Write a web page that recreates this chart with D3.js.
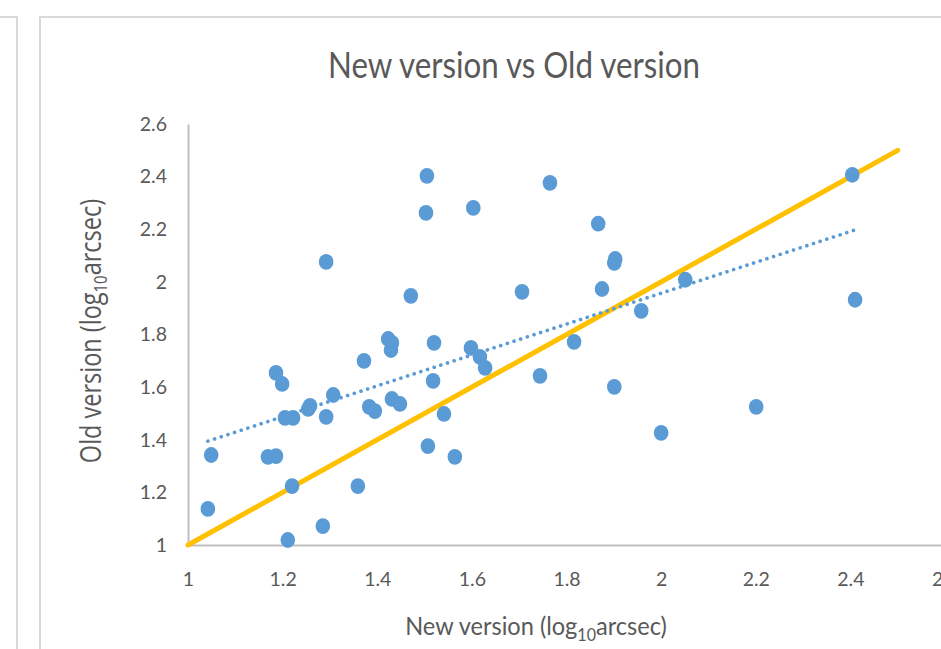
<!DOCTYPE html>
<html>
<head>
<meta charset="utf-8">
<script src="https://cdn.jsdelivr.net/npm/d3@7"></script>
<style>
  body { margin: 0; background: #fff; }
  svg { display: block; }
  text { fill: #595959; }
</style>
</head>
<body>
<div id="vis"></div>
<script>
// values (log10 arcsec)
const newVersion = [
  1.042, 1.049, 1.169, 1.186, 1.186, 1.199, 1.205, 1.222, 1.220, 1.211,
  1.254, 1.258, 1.292, 1.292, 1.285, 1.307, 1.359, 1.372, 1.383, 1.395,
  1.423, 1.431, 1.429, 1.431, 1.448, 1.471, 1.505, 1.503, 1.507, 1.520,
  1.518, 1.541, 1.564, 1.603, 1.598, 1.617, 1.628, 1.706, 1.744, 1.765,
  1.816, 1.867, 1.875, 1.903, 1.901, 1.901, 1.958, 2.000, 2.051, 2.201,
  2.404, 2.410
];
const oldVersion = [
  1.137, 1.342, 1.335, 1.338, 1.654, 1.612, 1.483, 1.483, 1.224, 1.019,
  1.517, 1.529, 2.076, 1.487, 1.072, 1.570, 1.224, 1.700, 1.525, 1.509,
  1.783, 1.768, 1.741, 1.555, 1.536, 1.947, 2.403, 2.262, 1.376, 1.768,
  1.624, 1.498, 1.335, 2.281, 1.749, 1.715, 1.673, 1.962, 1.643, 2.376,
  1.772, 2.221, 1.973, 2.087, 2.072, 1.601, 1.890, 1.426, 2.008, 1.525,
  2.407, 1.932
];
// one-to-one reference line
const diagLine = [[1, 1], [2.5, 2.5]];
const xTicks = [1, 1.2, 1.4, 1.6, 1.8, 2, 2.2, 2.4, 2.6];
const yTicks = [1, 1.2, 1.4, 1.6, 1.8, 2, 2.2, 2.4, 2.6];

const width = 941;
const height = 649;
const plot = { left: 188, right: 945, top: 124, bottom: 545 };

const svg = d3.select('#vis')
  .append('svg')
  .attr('width', width)
  .attr('height', height);

// panel borders
const border = '#d9d9d9';
svg.append('path')
  .attr('d', 'M0,17 H17 V649')
  .attr('fill', 'none').attr('stroke', border).attr('stroke-width', 2);
svg.append('path')
  .attr('d', 'M40,649 V17 H941')
  .attr('fill', 'none').attr('stroke', border).attr('stroke-width', 2);

const x = d3.scaleLinear().domain([1, 2.6]).range([plot.left, plot.right]);
const y = d3.scaleLinear().domain([1, 2.6]).range([plot.bottom, plot.top]);

// axes
const xAxis = svg.append('g')
  .attr('transform', `translate(0,${plot.bottom})`)
  .call(d3.axisBottom(x).tickValues(xTicks).tickSize(0).tickPadding(27)
    .tickFormat(d3.format('~g')));
const yAxis = svg.append('g')
  .attr('transform', `translate(${plot.left},0)`)
  .call(d3.axisLeft(y).tickValues(yTicks).tickSize(0).tickPadding(21)
    .tickFormat(d3.format('~g')));

[xAxis, yAxis].forEach(a => {
  a.select('.domain').attr('stroke', '#bfbfbf').attr('stroke-width', 2);
  a.selectAll('text')
    .style('font-family', 'Lato, sans-serif')
    .style('font-size', '19.5px')
    .style('fill', '#595959');
});

// y = x line
const line = d3.line().x(d => x(d[0])).y(d => y(d[1]));
svg.append('path')
  .datum(diagLine)
  .attr('d', line)
  .attr('fill', 'none')
  .attr('stroke', '#ffc000')
  .attr('stroke-width', 5)
  .attr('stroke-linecap', 'round');

// points
const data = newVersion.map((d, i) => ({ nx: d, ov: oldVersion[i] }));
svg.append('g')
  .selectAll('ellipse')
  .data(data)
  .join('ellipse')
  .attr('cx', d => x(d.nx))
  .attr('cy', d => y(d.ov))
  .attr('rx', 7.3)
  .attr('ry', 7.9)
  .attr('fill', '#5b9bd5');

// linear trendline (least squares), drawn over the data range
const mx = d3.mean(data, d => d.nx);
const my = d3.mean(data, d => d.ov);
const slope = d3.sum(data, d => (d.nx - mx) * (d.ov - my)) /
  d3.sum(data, d => (d.nx - mx) ** 2);
const icpt = my - slope * mx;
const [x0, x1] = d3.extent(data, d => d.nx);
svg.append('path')
  .datum([[x0, icpt + slope * x0], [x1, icpt + slope * x1]])
  .attr('d', line)
  .attr('fill', 'none')
  .attr('stroke', '#5b9bd5')
  .attr('stroke-width', 3.6)
  .attr('stroke-linecap', 'round')
  .attr('stroke-dasharray', '0.1 6.9');

// title
svg.append('text')
  .attr('x', 514)
  .attr('y', 78)
  .attr('text-anchor', 'middle')
  .attr('textLength', 372)
  .attr('lengthAdjust', 'spacingAndGlyphs')
  .style('font-family', 'Lato, sans-serif')
  .style('font-size', '37px')
  .text('New version vs Old version');

// x axis title
const xt = svg.append('text')
  .attr('transform', 'translate(536,635) scale(1,1.08)')
  .attr('text-anchor', 'middle')
  .style('font-family', 'Lato, sans-serif')
  .style('font-size', '23.6px');
xt.append('tspan').text('New version (log');
xt.append('tspan').attr('dy', 6).style('font-size', '16px').text('10');
xt.append('tspan').attr('dy', -6).text('arcsec)');

// y axis title
const yt = svg.append('text')
  .attr('transform', 'translate(101,331) rotate(-90) scale(1,1.2)')
  .attr('text-anchor', 'middle')
  .style('font-family', '"Open Sans", sans-serif')
  .style('font-size', '23.5px');
yt.append('tspan').text('Old version (log');
yt.append('tspan').attr('dy', 5).style('font-size', '15px').text('10');
yt.append('tspan').attr('dy', -5).text('arcsec)');
</script>
</body>
</html>
